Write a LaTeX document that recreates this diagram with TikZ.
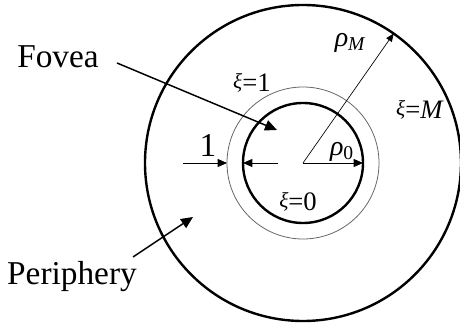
\documentclass[tikz,border=0pt]{standalone}
\usepackage{fontspec}
\setmainfont{Liberation Serif}
\usetikzlibrary{arrows.meta, calc}

\newcommand{\xisym}{\raisebox{2pt}{\fontsize{16}{18}\selectfont\textit{ξ}}}

\begin{document}
\begin{tikzpicture}[x=0.75pt, y=-0.75pt,
  >={Triangle[length=7pt, width=6pt]},
  bigtxt/.style={font=\fontsize{25}{28}\selectfont, inner sep=0pt},
  rhotxt/.style={font=\fontsize{21}{24}\selectfont\itshape, inner sep=0pt},
  xitxt/.style={font=\fontsize{20}{22}\selectfont, inner sep=0pt},
  thickring/.style={line width=1.8pt},
  thinring/.style={line width=0.6pt, black!60}]
  \useasboundingbox (0,0) rectangle (460,323);
  % radii in pixels (fovea, ring xi=1, periphery)
  \def\rZero{60}
  \def\rOne{76}
  \def\rMax{158}

  % centre and ring points
  \coordinate (C) at (303,163);
  \coordinate (RhoZero) at ($(C)+(\rZero,0)$);
  \coordinate (RhoMax) at ($(C)+(-55:\rMax)$);
  \coordinate (OneL) at ($(C)+(-\rOne,0)$);
  \coordinate (ZeroL) at ($(C)+(-\rZero,0)$);

  % rings
  \draw[thickring] (C) circle (\rMax);
  \draw[thinring] (C) circle (\rOne);
  \draw[thickring] (C) circle (\rZero);

  % radii
  \draw[->, line width=0.5pt, >={Triangle[length=6pt, width=5pt]}] (C) -- (RhoMax);
  \draw[->, line width=0.6pt] (C) -- (RhoZero);

  % width of ring: 1
  \coordinate (OneTail) at (183,163);
  \coordinate (ZeroTail) at (278,163);
  \draw[->, line width=0.6pt] (OneTail) -- (OneL);
  \draw[->, line width=0.6pt] (ZeroTail) -- (ZeroL);

  % Labels
  \node[bigtxt] (fovea) at (58,57) {Fovea};
  \node[bigtxt] (periph) at (72,277) {Periphery};
  \node[bigtxt] (one) at (208,146) {1};
  \node[rhotxt] (rhoM) at (350,43) {ρ\textsubscript{\textit{M}}};
  \node[rhotxt] (rho0) at (342,152) {ρ\textsubscript{\upshape 0}};
  \node[xitxt] (xiOne) at (252,83) {\xisym=1};
  \node[xitxt] (xiM) at (420,110) {\xisym=\textit{M}};
  \node[xitxt] (xiZero) at (298,202) {\xisym=0};

  % pointers
  \coordinate (foveaTail) at (117,63);
  \coordinate (foveaTip) at (277,130);
  \coordinate (periphTail) at (133,257);
  \coordinate (periphTip) at (193,217);
  \draw[->, line width=1.1pt, >={Triangle[length=9pt, width=8pt]}] (foveaTail) -- (foveaTip);
  \draw[->, line width=1.1pt, >={Triangle[length=9pt, width=8pt]}] (periphTail) -- (periphTip);
\end{tikzpicture}
\end{document}
